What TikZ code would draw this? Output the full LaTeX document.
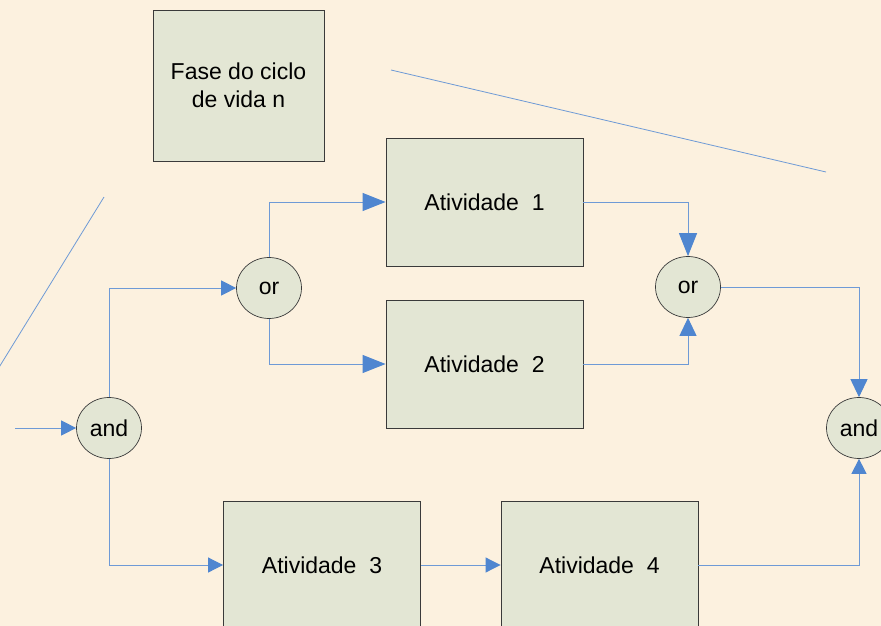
\documentclass[tikz,border=0pt]{standalone}
\usepackage{fontspec}
\setmainfont{Liberation Sans}
\usetikzlibrary{arrows.meta,shapes.geometric}
\definecolor{bgc}{HTML}{FCF1DF}
\definecolor{boxfill}{HTML}{E3E6D4}
\definecolor{linec}{HTML}{6E9AD6}
\definecolor{tipc}{HTML}{4F86D0}
\definecolor{edgec}{HTML}{3A3A3A}
\tikzset{
  actbox/.style={draw=edgec, line width=0.9pt, fill=boxfill, minimum width=197pt, minimum height=128pt, inner sep=0pt, font=\fontsize{23}{28}\selectfont, align=center},
  gate/.style={ellipse, draw=edgec, line width=0.7pt, fill=boxfill, minimum width=65pt, minimum height=61pt, inner sep=0pt, font=\fontsize{23}{28}\selectfont},
  conn/.style={draw=linec, line width=1pt, -{Triangle[length=15pt,width=15pt,color=tipc]}},
  longconn/.style={draw=linec, line width=1pt, -{Triangle[length=23pt,width=18pt,color=tipc]}},
  midconn/.style={draw=linec, line width=1pt, -{Triangle[length=18pt,width=17pt,color=tipc]}},
  deco/.style={draw=linec, line width=0.8pt}
}
\begin{document}
\begin{tikzpicture}[x=1pt,y=-1pt]
\fill[bgc] (0,0) rectangle (881,626);
\useasboundingbox (0,0) rectangle (881,626);
\clip (0,0) rectangle (881,626);
% decorative lines
\coordinate (d1a) at (391,70);
\coordinate (d1b) at (826,172);
\coordinate (d2a) at (104,197);
\coordinate (d2b) at (-2,369);
\draw[deco] (d1a) -- (d1b);
\draw[deco] (d2a) -- (d2b);
% boxes
\node[actbox, minimum width=171pt, minimum height=151pt] (fase) at (238.5,85.5) {Fase do ciclo\\de vida n};
\node[actbox] (a1) at (484.5,202) {Atividade\ \ 1};
\node[actbox] (a2) at (484.5,364) {Atividade\ \ 2};
\node[actbox] (a3) at (322,565) {Atividade\ \ 3};
\node[actbox] (a4) at (599.5,565) {Atividade\ \ 4};
% gates
\node[gate] (andL) at (109,428) {and};
\node[gate] (or1) at (269,288) {or};
\node[gate] (or2) at (688,287) {or};
\node[gate] (andR) at (859,428) {and};
% connectors
\coordinate (in) at (15,428);
\draw[conn] (in) -- (andL.west);
\draw[conn] (andL.north) |- (or1.west);
\draw[conn] (andL.south) |- (a3.west);
\draw[longconn] (or1.north) |- (a1.west);
\draw[longconn] (or1.south) |- (a2.west);
\draw[longconn] (a1.east) -| (or2.north);
\draw[midconn] (a2.east) -| (or2.south);
\draw[midconn] (or2.east) -| (andR.north);
\draw[conn] (a3.east) -- (a4.west);
\draw[conn] (a4.east) -| (andR.south);
\end{tikzpicture}
\end{document}
